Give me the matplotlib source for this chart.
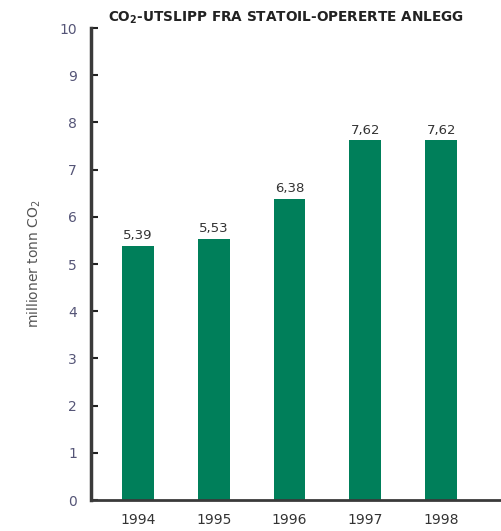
import numpy as np
import matplotlib.pyplot as plt

# CO2 emissions from Statoil-operated facilities
years = ['1994', '1995', '1996', '1997', '1998']
values = [5.39, 5.53, 6.38, 7.62, 7.62]
value_labels = ['5,39', '5,53', '6,38', '7,62', '7,62']

green = '#007f5a'
dark = '#3a3a3a'

fig = plt.figure(figsize=(5.01, 5.31), dpi=100)
ax = fig.add_axes([91/501, 31/531, 410/501, 472/531])

x = np.arange(len(years))
bars = ax.bar(x, values, width=0.42, color=green)
for b, lab in zip(bars, value_labels):
    ax.text(b.get_x() + b.get_width()/2, b.get_height() + 0.08, lab,
            ha='center', va='bottom', fontsize=9.5, color='#333333')

ax.set_xlim(-0.62, 4.79)
ax.set_ylim(0, 10)
ax.set_yticks(range(0, 11))
ax.set_xticks(x)
ax.set_xticklabels(years)

for s in ['top', 'right']:
    ax.spines[s].set_visible(False)
ax.spines['left'].set_linewidth(2.5)
ax.spines['left'].set_color(dark)
ax.spines['bottom'].set_linewidth(2)
ax.spines['bottom'].set_color(dark)

ax.tick_params(axis='y', direction='in', length=5, width=1.5, color='#222222',
               labelsize=10, labelcolor='#555577', pad=10)
ax.tick_params(axis='x', length=0, labelsize=10, labelcolor='#333333', pad=9)

ax.set_ylabel('millioner tonn CO$_2$', fontsize=10, color='#555555', labelpad=12)

fig.text(108/501, 1 - 18/531, 'CO$_\\mathbf{2}$-UTSLIPP FRA STATOIL-OPERERTE ANLEGG',
         fontsize=9.8, fontweight='bold', color='#222222', va='center', ha='left')

fig.savefig('out.png', dpi=100)
